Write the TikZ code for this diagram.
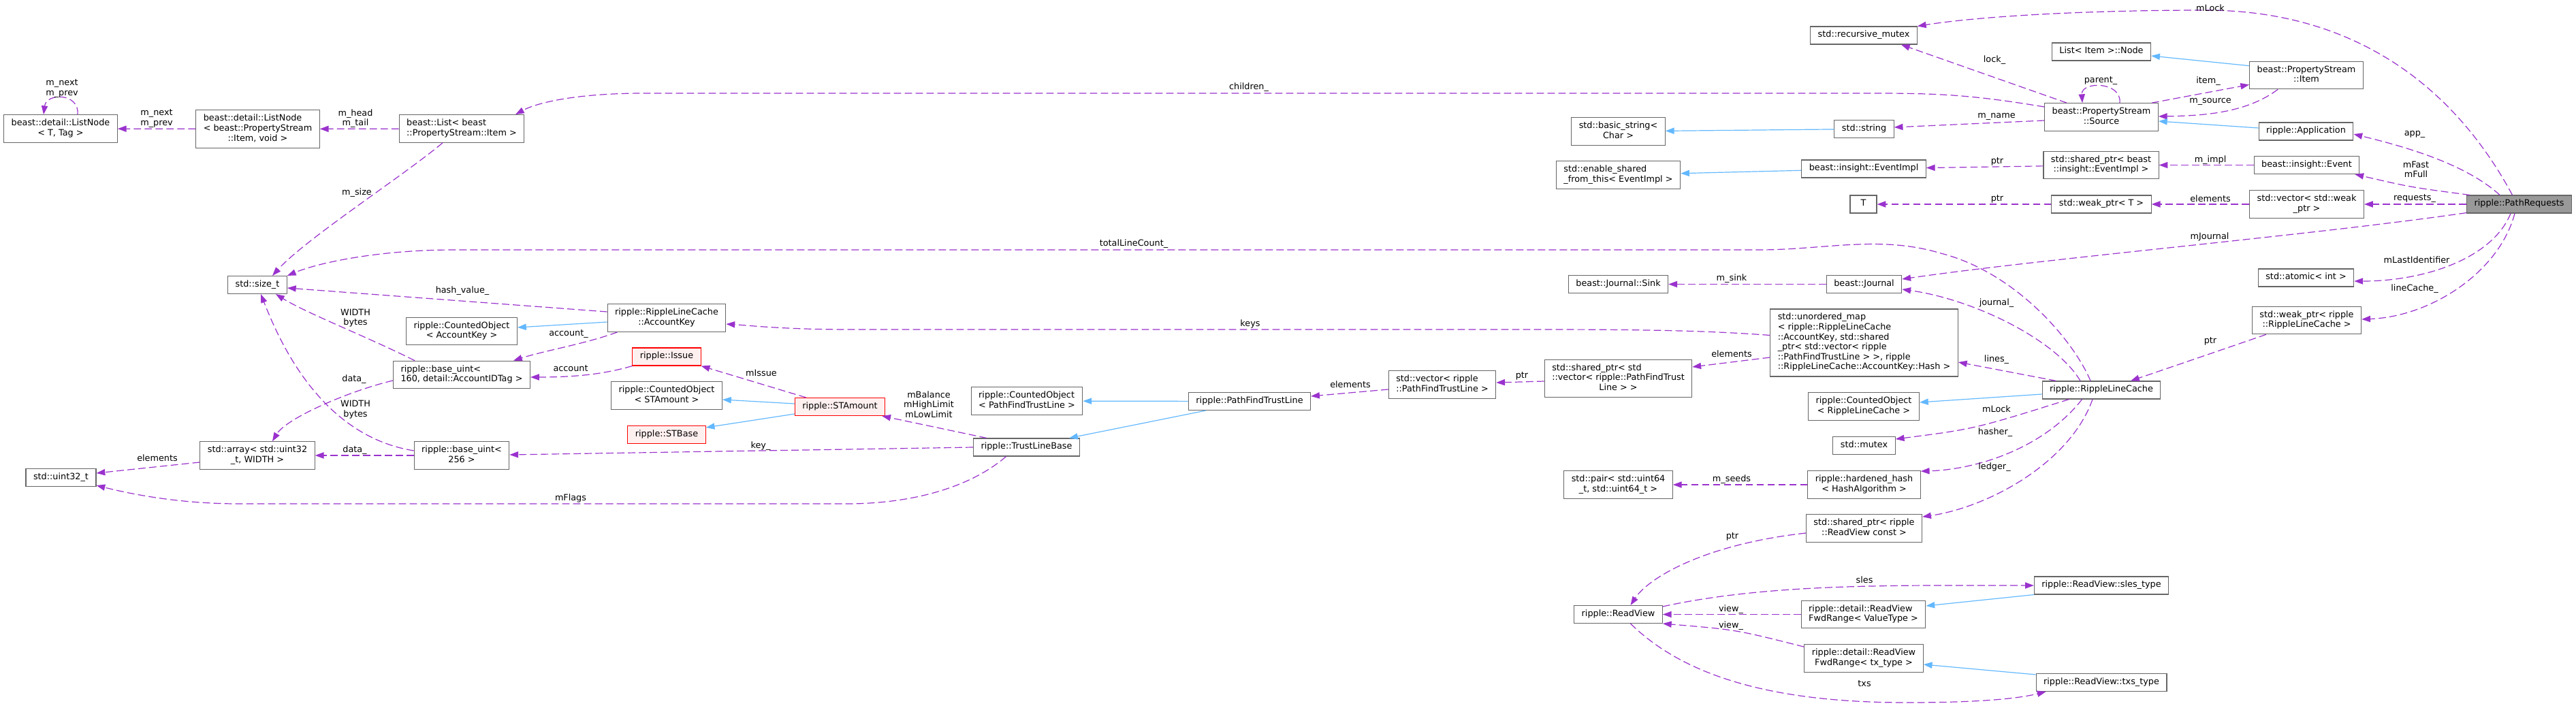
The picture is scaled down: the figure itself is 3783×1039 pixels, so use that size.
\documentclass[tikz,border=0pt]{standalone}
\usepackage{fontspec}
\setmainfont{DejaVu Sans}
\usetikzlibrary{arrows.meta,calc}
\definecolor{usageedge}{RGB}{154,50,205}
\definecolor{inheritedge}{RGB}{99,184,255}
\definecolor{classline}{RGB}{102,102,102}
\definecolor{undocfill}{RGB}{255,240,240}
\definecolor{focusfill}{RGB}{153,153,153}
\newcommand{\graphfont}{\fontsize{6.4}{7.3}\selectfont}
\newcommand{\classone}[1]{\begin{tabular}{@{}c@{}}#1\end{tabular}}
\newcommand{\classmulti}[2]{\begin{tabular}{@{}l@{}}#1\\\multicolumn{1}{@{}c@{}}{#2}\end{tabular}}
\tikzset{
  cls/.style={draw=classline,fill=white,line width=0.55pt,inner xsep=5.5pt,inner ysep=2.85pt,font=\graphfont},
  undoc/.style={cls,draw=red,fill=undocfill},
  focus/.style={cls,fill=focusfill},
  usage/.style={draw=usageedge,line width=0.6pt,dash pattern=on 5.4pt off 2.6pt,-{Triangle[length=6.4pt,width=4.6pt]}},
  inherit/.style={draw=inheritedge,line width=0.6pt,-{Triangle[length=6.4pt,width=4.6pt]}},
  memb/.style={font=\graphfont,inner sep=0pt,align=center}
}

\begin{document}
\begin{tikzpicture}[x=0.5pt,y=-0.5pt]
  \useasboundingbox (0,0) rectangle (3783,1039);
  \node[cls] (lnT) at (89,189) {\classmulti{beast::detail::ListNode}{< T, Tag >}};
  \node[cls] (lnItem) at (378.5,189.5) {\classmulti{beast::detail::ListNode\\< beast::PropertyStream}{::Item, void >}};
  \node[cls] (listItem) at (678,189) {\classmulti{beast::List< beast}{::PropertyStream::Item >}};
  \node[cls] (sizeT) at (378,418.5) {\classone{std::size\_t}};
  \node[cls] (acctKey) at (979,467) {\classmulti{ripple::RippleLineCache}{::AccountKey}};
  \node[cls] (coAcctKey) at (678,486.5) {\classmulti{ripple::CountedObject}{< AccountKey >}};
  \node[cls] (uint160) at (678,550.5) {\classmulti{ripple::base\_uint<}{160, detail::AccountIDTag >}};
  \node[cls] (arr32) at (378,669) {\classmulti{std::array< std::uint32}{\_t, WIDTH >}};
  \node[cls] (uint256) at (678,669) {\classmulti{ripple::base\_uint<}{256 >}};
  \node[cls] (u32) at (89.5,701.5) {\classone{std::uint32\_t}};
  \node[undoc] (issue) at (979,524) {\classone{ripple::Issue}};
  \node[cls] (coSTA) at (979,581) {\classmulti{ripple::CountedObject}{< STAmount >}};
  \node[undoc] (stAmount) at (1233.5,597.5) {\classone{ripple::STAmount}};
  \node[undoc] (stBase) at (979,638.5) {\classone{ripple::STBase}};
  \node[cls] (coPFTL) at (1508,589) {\classmulti{ripple::CountedObject}{< PathFindTrustLine >}};
  \node[cls] (pftl) at (1835,589.5) {\classone{ripple::PathFindTrustLine}};
  \node[cls] (tlBase) at (1507.5,657) {\classone{ripple::TrustLineBase}};
  \node[cls] (vecPFTL) at (2118,565) {\classmulti{std::vector< ripple}{::PathFindTrustLine >}};
  \node[cls] (spVec) at (2376.5,556) {\classmulti{std::shared\_ptr< std\\::vector< ripple::PathFindTrust}{Line > >}};
  \node[cls] (umap) at (2737.5,503.5) {\classmulti{std::unordered\_map\\< ripple::RippleLineCache\\::AccountKey, std::shared\\\_ptr< std::vector< ripple\\::PathFindTrustLine > >, ripple}{::RippleLineCache::AccountKey::Hash >}};
  \node[cls] (sink) at (2376.5,417.5) {\classone{beast::Journal::Sink}};
  \node[cls] (journal) at (2737.5,417.5) {\classone{beast::Journal}};
  \node[cls] (coRLC) at (2737,597) {\classmulti{ripple::CountedObject}{< RippleLineCache >}};
  \node[cls] (mtx) at (2737.5,654.5) {\classone{std::mutex}};
  \node[cls] (pairU64) at (2376.5,712) {\classmulti{std::pair< std::uint64}{\_t, std::uint64\_t >}};
  \node[cls] (hhash) at (2737.5,712) {\classmulti{ripple::hardened\_hash}{< HashAlgorithm >}};
  \node[cls] (spRV) at (2737.5,776) {\classmulti{std::shared\_ptr< ripple}{::ReadView const >}};
  \node[cls] (readView) at (2376.5,902.5) {\classone{ripple::ReadView}};
  \node[cls] (fwdVT) at (2736.5,902.5) {\classmulti{ripple::detail::ReadView}{FwdRange< ValueType >}};
  \node[cls] (fwdTx) at (2737,967) {\classmulti{ripple::detail::ReadView}{FwdRange< tx\_type >}};
  \node[cls] (slesT) at (3086,860) {\classone{ripple::ReadView::sles\_type}};
  \node[cls] (txsT) at (3086,1002.5) {\classone{ripple::ReadView::txs\_type}};
  \node[cls] (rmutex) at (2737,52) {\classone{std::recursive\_mutex}};
  \node[cls] (bstring) at (2376.5,193) {\classmulti{std::basic\_string<}{Char >}};
  \node[cls] (sstring) at (2737.5,189.5) {\classone{std::string}};
  \node[cls] (esft) at (2376.5,257) {\classmulti{std::enable\_shared}{\_from\_this< EventImpl >}};
  \node[cls] (evImpl) at (2737,248) {\classone{beast::insight::EventImpl}};
  \node[cls,minimum width=19.5pt] (tT) at (2736.5,300) {\classone{T}};
  \node[cls] (itemNode) at (3086,76) {\classone{List< Item >::Node}};
  \node[cls] (psItem) at (3387,110.5) {\classmulti{beast::PropertyStream}{::Item}};
  \node[cls] (psSource) at (3086,172) {\classmulti{beast::PropertyStream}{::Source}};
  \node[cls] (app) at (3386.5,193) {\classone{ripple::Application}};
  \node[cls] (spEI) at (3085.5,242.5) {\classmulti{std::shared\_ptr< beast}{::insight::EventImpl >}};
  \node[cls] (event) at (3387.5,242.5) {\classone{beast::insight::Event}};
  \node[cls] (weakT) at (3086,300) {\classone{std::weak\_ptr< T >}};
  \node[cls] (vecWeak) at (3387.5,300) {\classmulti{std::vector< std::weak}{\_ptr >}};
  \node[focus] (pathReq) at (3699.5,300) {\classone{ripple::PathRequests}};
  \node[cls] (atomicInt) at (3386.5,408) {\classone{std::atomic< int >}};
  \node[cls] (weakRLC) at (3387.5,470.5) {\classmulti{std::weak\_ptr< ripple}{::RippleLineCache >}};
  \node[cls] (rlc) at (3086,573) {\classone{ripple::RippleLineCache}};

  \draw[usage] ($(lnT.north)+(25,0)$) .. controls +(3,-32) and +(4,-32) .. ($(lnT.north)+(-25,0)$);
  \draw[usage] (lnItem) -- (lnT);
  \draw[usage] (listItem) -- (lnItem);
  \draw[usage] ($(psSource.west)+(0,-15)$) .. controls (2900,140) and (2850,137) .. (2756,137) -- (945,137) .. controls (850,137) and (790,150) .. ($(listItem.north)+(79,0)$);
  \draw[usage] ($(listItem.south)+(-28,0)$) .. controls (590,260) and (450,350) .. ($(sizeT.north)+(22,0)$);
  \draw[usage] ($(umap.west)+(0,-11)$) .. controls (2500,485) and (2400,484) .. (2250,484) -- (1250,484) .. controls (1150,484) and (1100,478) .. ($(acctKey.east)+(0,9)$);
  \draw[usage] ($(acctKey.west)+(0,-9)$) -- ($(sizeT.east)+(0,4.5)$);
  \draw[usage] ($(acctKey.south west)+(15,0)$) .. controls (860,505) and (800,515) .. ($(uint160.north)+(76,0)$);
  \draw[usage] ($(rlc.north)+(-16,0)$) .. controls (3045,500) and (2960,400) .. (2850,372) .. controls (2760,345) and (2680,367) .. (2583,367) -- (666,367) .. controls (560,367) and (470,385) .. (sizeT.north east);
  \draw[usage] ($(uint160.north west)+(32,0)$) .. controls (540,495) and (450,460) .. ($(sizeT.south)+(27,0)$);
  \draw[usage] ($(uint160.west)+(0,8.5)$) .. controls (510,575) and (420,615) .. ($(arr32.north)+(22,0)$);
  \draw[usage] ($(uint256.west)+(0,-7)$) .. controls (470,640) and (410,500) .. ($(sizeT.south)+(5,0)$);
  \draw[usage] (uint256) -- (arr32);
  \draw[usage] ($(arr32.west)+(0,10)$) -- ($(u32.east)+(0,-6.5)$);
  \draw[usage] ($(tlBase.south)+(-30,0)$) .. controls (1420,720) and (1330,740) .. (1244,740) -- (351,740) .. controls (260,740) and (190,725) .. ($(u32.south east)+(0,-2)$);
  \draw[usage] (tlBase.west) -- ($(uint256.east)+(0,-1)$);
  \draw[usage] ($(stAmount.north west)+(17,0)$) -- (issue.south east);
  \draw[usage] ($(tlBase.north west)+(20,0)$) -- ($(stAmount.south east)+(-5,0)$);
  \draw[usage] (issue.south west) .. controls (880,552) and (830,554) .. ($(uint160.east)+(0,3.5)$);
  \draw[usage] ($(vecPFTL.west)+(0,7)$) -- ($(pftl.east)+(0,-7.5)$);
  \draw[usage] ($(spVec.west)+(0,4)$) -- ($(vecPFTL.east)+(0,-3)$);
  \draw[usage] ($(umap.west)+(0,21.5)$) -- ($(spVec.east)+(0,-17)$);
  \draw[usage] ($(rlc.north west)+(21,0)$) -- ($(umap.east)+(0,28.5)$);
  \draw[usage] (journal) -- (sink);
  \draw[usage] ($(pathReq.south west)+(0,-1)$) .. controls (3400,345) and (3000,380) .. ($(journal.east)+(0,-7.5)$);
  \draw[usage] ($(rlc.north)+(-31,0)$) .. controls (3020,500) and (2900,440) .. ($(journal.east)+(0,7.5)$);
  \draw[usage] ($(pathReq.north)+(-10,0)$) .. controls (3600,120) and (3450,15) .. (3239,15) .. controls (3050,15) and (2900,25) .. (rmutex.north east);
  \draw[usage] ($(psSource.north west)+(33,0)$) -- ($(rmutex.south east)+(-24,0)$);
  \draw[usage] ($(psSource.north)+(27,0)$) .. controls +(3,-32) and +(-2,-32) .. ($(psSource.north)+(-28,0)$);
  \draw[usage] ($(psSource.north east)+(-10,0)$) -- ($(psItem.south west)+(0,-7)$);
  \draw[usage] ($(psItem.south west)+(42,0)$) .. controls (3300,165) and (3240,170) .. ($(psSource.east)+(0,-1)$);
  \draw[usage] ($(psSource.west)+(0,5)$) -- ($(sstring.east)+(0,-2.5)$);
  \draw[usage] ($(pathReq.north)+(-28.5,0)$) .. controls (3620,240) and (3530,215) .. ($(app.east)+(0,4)$);
  \draw[usage] (event) -- (spEI);
  \draw[usage] (spEI) -- (evImpl);
  \draw[usage] ($(pathReq.north west)+(5,0)$) .. controls (3540,275) .. ($(event.south east)+(-7,0)$);
  \draw[usage] (vecWeak) -- (weakT);
  \draw[usage] (weakT) -- (tT);
  \draw[usage] (pathReq) -- (vecWeak);
  \draw[usage] ($(pathReq.south)+(-12.5,0)$) .. controls (3660,380) and (3560,413) .. ($(atomicInt.east)+(0,5)$);
  \draw[usage] ($(pathReq.south)+(-6.5,0)$) .. controls (3670,400) and (3570,465) .. ($(weakRLC.east)+(0,-1.5)$);
  \draw[usage] ($(weakRLC.south west)+(21,0)$) .. controls (3230,525) .. ($(rlc.north)+(43,0)$);
  \draw[usage] ($(rlc.south west)+(40,0)$) .. controls (2900,630) .. ($(mtx.east)+(0,-9.5)$);
  \draw[usage] ($(rlc.south west)+(59,0)$) .. controls (3000,660) and (2900,690) .. ($(hhash.north east)+(0,1)$);
  \draw[usage] ($(rlc.south)+(-13,0)$) .. controls (3040,680) and (2920,745) .. ($(spRV.north east)+(0,4)$);
  \draw[usage] (hhash) -- (pairU64);
  \draw[usage] ($(spRV.west)+(0,7)$) .. controls (2500,800) and (2420,850) .. ($(readView.north)+(18,0)$);
  \draw[usage] (fwdVT) -- (readView);
  \draw[usage] ($(fwdTx.north west)+(0,4)$) .. controls (2550,925) .. (readView.south east);
  \draw[usage] ($(readView.north east)+(0,2)$) .. controls (2560,865) and (2700,860) .. (2850,860) -- (slesT.west);
  \draw[usage] ($(readView.south)+(18,0)$) .. controls (2480,1000) and (2620,1032) .. (2800,1032) .. controls (2900,1032) and (2960,1027) .. ($(txsT.south west)+(15,0)$);

  \draw[inherit] ($(acctKey.west)+(0,6)$) -- ($(coAcctKey.east)+(0,-5.5)$);
  \draw[inherit] ($(stAmount.west)+(0,-4.5)$) -- ($(coSTA.east)+(0,6)$);
  \draw[inherit] ($(stAmount.west)+(0,10.5)$) -- ($(stBase.east)+(0,-10.5)$);
  \draw[inherit] (pftl) -- (coPFTL);
  \draw[inherit] ($(pftl.south west)+(26,0)$) -- ($(tlBase.north east)+(-16,0)$);
  \draw[inherit] (sstring) -- (bstring);
  \draw[inherit] (evImpl) -- (esft);
  \draw[inherit] ($(psItem.north west)+(0,7)$) -- ($(itemNode.east)+(0,6)$);
  \draw[inherit] ($(app.west)+(0,-5)$) -- ($(psSource.east)+(0,6)$);
  \draw[inherit] ($(rlc.west)+(0,6)$) -- ($(coRLC.east)+(0,-6)$);
  \draw[inherit] (slesT.south west) -- ($(fwdVT.east)+(0,-12.5)$);
  \draw[inherit] ($(txsT.north west)+(0,2)$) -- ($(fwdTx.east)+(0,9)$);

  \node[memb] (lbLoopList) at (91,130) {m\_next\\m\_prev};
  \node[memb] (lbNextPrev) at (230,174) {m\_next\\m\_prev};
  \node[memb] (lbHeadTail) at (522,174) {m\_head\\m\_tail};
  \node[memb] (lbChildren) at (1834,128) {children\_};
  \node[memb] (lbSize) at (524,283) {m\_size};
  \node[memb] (lbKeys) at (1836,476) {keys};
  \node[memb] (lbHashValue) at (679,427) {hash\_value\_};
  \node[memb] (lbAccountU) at (835,491) {account\_};
  \node[memb] (lbTotal) at (1665,358) {totalLineCount\_};
  \node[memb] (lbWidthA) at (522,467) {WIDTH\\bytes};
  \node[memb] (lbDataA) at (520,557) {data\_};
  \node[memb] (lbWidthB) at (522,601.5) {WIDTH\\bytes};
  \node[memb] (lbDataB) at (521,661) {data\_};
  \node[memb] (lbElemU32) at (231,673) {elements};
  \node[memb] (lbFlags) at (838,732) {mFlags};
  \node[memb] (lbKey) at (1117,655) {key\_};
  \node[memb] (lbIssue) at (1118,548) {mIssue};
  \node[memb] (lbBalance) at (1364,594) {mBalance\\mHighLimit\\mLowLimit};
  \node[memb] (lbAccount) at (838,541) {account};
  \node[memb] (lbElemPFTL) at (1983,565) {elements};
  \node[memb] (lbPtrVec) at (2235,552) {ptr};
  \node[memb] (lbElemMap) at (2543,520) {elements};
  \node[memb] (lbLines) at (2932,528) {lines\_};
  \node[memb] (lbSink) at (2543,409) {m\_sink};
  \node[memb] (lbJournalM) at (3245,348) {mJournal};
  \node[memb] (lbJournalU) at (2932,445) {journal\_};
  \node[memb] (lbLockReq) at (3246,12) {mLock};
  \node[memb] (lbLockU) at (2929,88) {lock\_};
  \node[memb] (lbParent) at (3085,119) {parent\_};
  \node[memb] (lbItem) at (3243,119) {item\_};
  \node[memb] (lbSource) at (3246,149) {m\_source};
  \node[memb] (lbName) at (2932,171) {m\_name};
  \node[memb] (lbApp) at (3546,197) {app\_};
  \node[memb] (lbImpl) at (3246,235) {m\_impl};
  \node[memb] (lbPtrEI) at (2933,237) {ptr};
  \node[memb] (lbFastFull) at (3548,249) {mFast\\mFull};
  \node[memb] (lbElemWeak) at (3246,292) {elements};
  \node[memb] (lbPtrT) at (2933,292) {ptr};
  \node[memb] (lbRequests) at (3546,292) {requests\_};
  \node[memb] (lbLastId) at (3549,382) {mLastIdentifier};
  \node[memb] (lbLineCache) at (3546,424) {lineCache\_};
  \node[memb] (lbPtrRLC) at (3246,501) {ptr};
  \node[memb] (lbLockRLC) at (2932,601) {mLock};
  \node[memb] (lbHasher) at (2930,635) {hasher\_};
  \node[memb] (lbLedger) at (2929,686) {ledger\_};
  \node[memb] (lbSeeds) at (2543,704) {m\_seeds};
  \node[memb] (lbPtrRV) at (2544,788) {ptr};
  \node[memb] (lbViewA) at (2542,895) {view\_};
  \node[memb] (lbViewB) at (2542,919) {view\_};
  \node[memb] (lbSles) at (2738,852) {sles};
  \node[memb] (lbTxs) at (2738,1004) {txs};
\end{tikzpicture}
\end{document}
